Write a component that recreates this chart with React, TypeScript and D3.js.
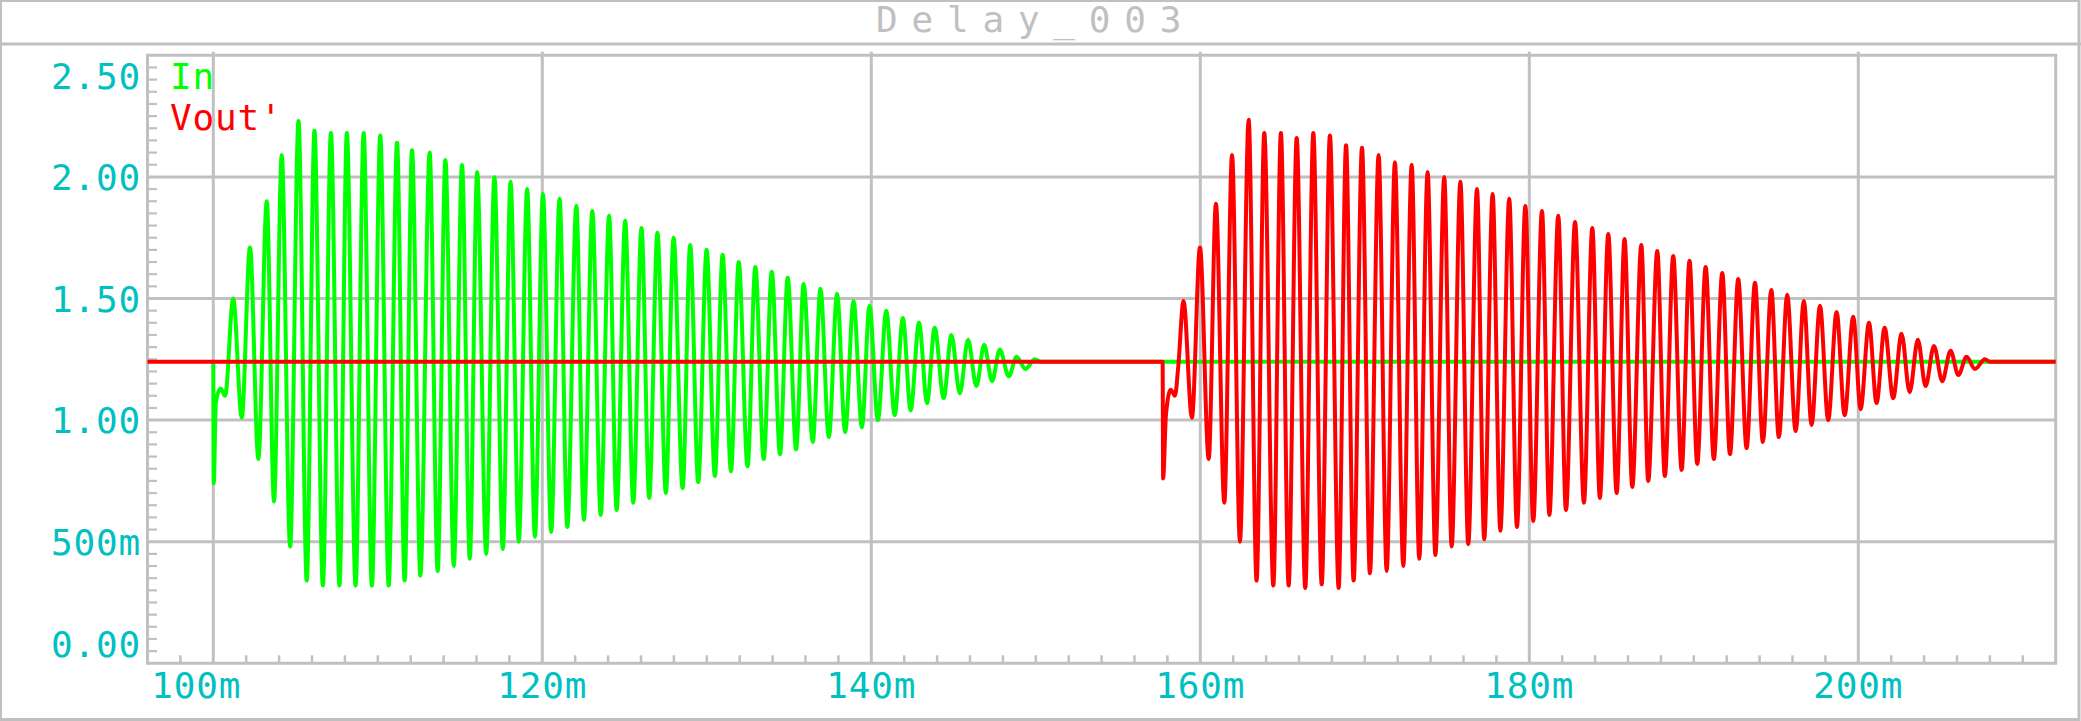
import React from 'react';
import * as d3 from 'd3';

const W = 2081;
const H = 721;

const TITLE = 'Delay_003';
const SERIES_NAMES = ['In', "Vout'"];
const SERIES_COLORS = ['#00ff00', '#ff0000'];

const X_DOMAIN = [96, 212];
const Y_DOMAIN = [0, 2.5];
const X_TICK_VALUES = [100, 120, 140, 160, 180, 200];
const X_TICK_LABELS = ['100m', '120m', '140m', '160m', '180m', '200m'];
const Y_TICK_VALUES = [0, 0.5, 1, 1.5, 2, 2.5];
const Y_TICK_LABELS = ['0.00', '500m', '1.00', '1.50', '2.00', '2.50'];

// In: time (ms) of each turning point, and the voltage there
const IN_TIME = [
  100.0, 100.03, 100.15, 100.44, 100.72, 101.21, 101.73, 102.23, 102.74, 103.25,
  103.69, 104.16, 104.67, 105.18, 105.68, 106.15, 106.66, 107.15, 107.67, 108.12,
  108.65, 109.14, 109.64, 110.15, 110.66, 111.17, 111.63, 112.08, 112.59, 113.15,
  113.64, 114.11, 114.62, 115.12, 115.59, 116.04, 116.59, 117.09, 117.6, 118.07,
  118.57, 119.08, 119.55, 120.04, 120.54, 121.05, 121.52, 122.07, 122.53, 123.04,
  123.55, 124.06, 124.52, 125.04, 125.53, 126.03, 126.5, 127.0, 127.51, 127.98,
  128.53, 128.99, 129.48, 129.99, 130.49, 130.96, 131.47, 131.94, 132.48, 132.95,
  133.46, 133.95, 134.45, 134.92, 135.43, 135.89, 136.44, 136.91, 137.42, 137.92,
  138.41, 138.92, 139.43, 139.89, 140.4, 140.91, 141.42, 141.92, 142.39, 142.9,
  143.39, 143.85, 144.4, 144.87, 145.38, 145.88, 146.39, 146.86, 147.34, 147.81,
  148.36, 148.83, 149.37, 149.94, 150.3, 212.0,
];
const IN_VALUE = [
  1.24, 0.74, 1.07, 1.13, 1.1, 1.5, 1.01, 1.71, 0.84, 1.9,
  0.665, 2.09, 0.48, 2.23, 0.34, 2.19, 0.32, 2.18, 0.32, 2.18,
  0.32, 2.18, 0.32, 2.17, 0.32, 2.14, 0.34, 2.11, 0.36, 2.1,
  0.38, 2.07, 0.4, 2.05, 0.43, 2.02, 0.45, 2.0, 0.47, 1.98,
  0.5, 1.95, 0.52, 1.93, 0.54, 1.91, 0.56, 1.88, 0.59, 1.86,
  0.61, 1.84, 0.63, 1.82, 0.66, 1.79, 0.68, 1.77, 0.7, 1.75,
  0.72, 1.72, 0.745, 1.7, 0.77, 1.68, 0.79, 1.65, 0.81, 1.63,
  0.84, 1.61, 0.86, 1.585, 0.88, 1.56, 0.91, 1.54, 0.93, 1.52,
  0.95, 1.49, 0.97, 1.47, 1.0, 1.45, 1.02, 1.42, 1.04, 1.4,
  1.07, 1.38, 1.09, 1.35, 1.11, 1.33, 1.14, 1.31, 1.16, 1.29,
  1.18, 1.26, 1.21, 1.25, 1.24, 1.24,
];

// Vout': time (ms) of each turning point, and the voltage there
const VOUT_TIME = [
  96.0, 157.71, 157.74, 157.91, 158.2, 158.46, 158.66, 158.98, 159.49, 159.98,
  160.51, 160.95, 161.46, 161.93, 162.41, 162.94, 163.42, 163.89, 164.44, 164.9,
  165.37, 165.86, 166.38, 166.87, 167.38, 167.88, 168.41, 168.86, 169.32, 169.83,
  170.31, 170.84, 171.33, 171.83, 172.34, 172.85, 173.31, 173.82, 174.29, 174.83,
  175.28, 175.81, 176.29, 176.82, 177.26, 177.77, 178.24, 178.78, 179.25, 179.76,
  180.24, 180.77, 181.22, 181.76, 182.23, 182.78, 183.32, 183.83, 184.29, 184.8,
  185.31, 185.79, 186.26, 186.81, 187.23, 187.78, 188.24, 188.75, 189.26, 189.74,
  190.21, 190.72, 191.22, 191.73, 192.2, 192.7, 193.21, 193.72, 194.2, 194.71,
  195.17, 195.68, 196.19, 196.69, 197.16, 197.67, 198.17, 198.68, 199.17, 199.69,
  200.14, 200.65, 201.11, 201.6, 202.12, 202.63, 203.12, 203.62, 204.09, 204.6,
  205.1, 205.61, 206.08, 206.58, 207.09, 207.7, 208.0, 212.0,
];
const VOUT_VALUE = [
  1.24, 1.24, 0.76, 1.02, 1.125, 1.1, 1.22, 1.49, 1.01, 1.71,
  0.84, 1.89, 0.66, 2.09, 0.5, 2.235, 0.34, 2.18, 0.32, 2.18,
  0.32, 2.16, 0.31, 2.18, 0.325, 2.17, 0.31, 2.13, 0.34, 2.12,
  0.37, 2.09, 0.38, 2.06, 0.4, 2.05, 0.43, 2.02, 0.445, 2.0,
  0.48, 1.98, 0.49, 1.95, 0.51, 1.93, 0.545, 1.91, 0.56, 1.88,
  0.585, 1.86, 0.61, 1.84, 0.63, 1.815, 0.66, 1.79, 0.68, 1.765,
  0.7, 1.745, 0.725, 1.72, 0.75, 1.695, 0.77, 1.675, 0.795, 1.655,
  0.82, 1.63, 0.84, 1.605, 0.86, 1.58, 0.885, 1.565, 0.91, 1.535,
  0.93, 1.515, 0.955, 1.49, 0.98, 1.47, 1.0, 1.445, 1.02, 1.425,
  1.045, 1.4, 1.07, 1.38, 1.09, 1.355, 1.115, 1.33, 1.14, 1.305,
  1.16, 1.285, 1.185, 1.26, 1.21, 1.25, 1.24, 1.24,
];

const GRID = '#c0c0c0';
const LABEL = '#00c0c0';
const FONT = '"DejaVu Sans Mono", "Liberation Mono", monospace';

const PLOT = { left: 147.5, right: 2055.7, top: 55.3, bottom: 663.3 };

export default function App() {
  const x = d3.scaleLinear().domain(X_DOMAIN).range([PLOT.left, PLOT.right]);
  const y = d3.scaleLinear().domain(Y_DOMAIN).range([PLOT.bottom, PLOT.top]);

  const line = d3
    .line<[number, number]>()
    .x((d) => x(d[0]))
    .y((d) => y(d[1]))
    .curve(d3.curveMonotoneX);

  const inPts: [number, number][] = IN_TIME.map((t, i) => [t, IN_VALUE[i]]);
  const voutPts: [number, number][] = VOUT_TIME.map((t, i) => [t, VOUT_VALUE[i]]);

  const xMinor = d3.range(X_DOMAIN[0] + 2, X_DOMAIN[1], 2).filter((v) => Math.abs(v % 20) > 1e-6);
  const yMinor = d3
    .range(1, 50)
    .map((k) => k * 0.05)
    .filter((v) => Math.abs(v / 0.5 - Math.round(v / 0.5)) > 1e-6);

  const yLabelCenter = (v: number) =>
    Math.min(Math.max(y(v), PLOT.top + 21), PLOT.bottom - 19.5);

  return (
    <svg
      width={W}
      height={H}
      style={{ position: 'absolute', left: 0, top: 0, background: '#ffffff' }}
    >
      <rect x={0} y={0} width={W} height={H} fill="#ffffff" />
      {/* outer frame */}
      <rect x={0.5} y={0.5} width={W - 2.5} height={H - 2} fill="none" stroke={GRID} strokeWidth={3} />
      <line x1={0} x2={W} y1={44} y2={44} stroke={GRID} strokeWidth={3} />
      <text
        x={876}
        y={32}
        fill={GRID}
        fontFamily={FONT}
        fontSize={36}
        letterSpacing={13.8}
      >
        {TITLE}
      </text>

      {/* grid */}
      {X_TICK_VALUES.map((v) => (
        <line key={'gx' + v} x1={x(v)} x2={x(v)} y1={PLOT.top - 3.5} y2={PLOT.bottom} stroke={GRID} strokeWidth={3} />
      ))}
      {Y_TICK_VALUES.filter((v) => v > 0 && v < 2.5).map((v) => (
        <line key={'gy' + v} x1={PLOT.left} x2={PLOT.right} y1={y(v)} y2={y(v)} stroke={GRID} strokeWidth={3} />
      ))}
      {/* frame */}
      <line x1={PLOT.left} x2={PLOT.right + 1.5} y1={PLOT.top} y2={PLOT.top} stroke={GRID} strokeWidth={3} />
      <line x1={PLOT.right} x2={PLOT.right} y1={PLOT.top} y2={PLOT.bottom + 1.5} stroke={GRID} strokeWidth={3} />
      <line x1={PLOT.left} x2={PLOT.right} y1={PLOT.bottom} y2={PLOT.bottom} stroke={GRID} strokeWidth={3} />
      <line x1={PLOT.left} x2={PLOT.left} y1={PLOT.top - 1.5} y2={PLOT.bottom + 1.5} stroke={GRID} strokeWidth={3} />

      {/* minor ticks */}
      {xMinor.map((v) => (
        <line key={'mx' + v} x1={x(v)} x2={x(v)} y1={PLOT.bottom} y2={PLOT.bottom - 8} stroke={GRID} strokeWidth={2.5} />
      ))}
      {yMinor.map((v) => (
        <line key={'my' + v} x1={PLOT.left} x2={PLOT.left + 9.5} y1={y(v)} y2={y(v)} stroke={GRID} strokeWidth={2.2} />
      ))}

      {/* traces */}
      <path d={line(inPts) || ''} fill="none" stroke={SERIES_COLORS[0]} strokeWidth={4} strokeLinejoin="round" />
      <path d={line(voutPts) || ''} fill="none" stroke={SERIES_COLORS[1]} strokeWidth={4} strokeLinejoin="round" />

      {/* y labels */}
      {Y_TICK_VALUES.map((v, i) => (
        <text
          key={'ly' + v}
          x={141}
          y={yLabelCenter(v) + 13}
          textAnchor="end"
          fill={LABEL}
          fontFamily={FONT}
          fontSize={36}
          letterSpacing={0.8}
        >
          {Y_TICK_LABELS[i]}
        </text>
      ))}
      {/* x labels */}
      {X_TICK_VALUES.map((v, i) => (
        <text
          key={'lx' + v}
          x={x(v) + (i === 0 ? -17 : 0)}
          y={697.5}
          textAnchor="middle"
          fill={LABEL}
          fontFamily={FONT}
          fontSize={36}
          letterSpacing={0.8}
        >
          {X_TICK_LABELS[i]}
        </text>
      ))}

      {/* legend */}
      {SERIES_NAMES.map((n, i) => (
        <text
          key={'lg' + n}
          x={170}
          y={89.3 + i * 40.7}
          fill={SERIES_COLORS[i]}
          fontFamily={FONT}
          fontSize={36}
          letterSpacing={0.8}
        >
          {n}
        </text>
      ))}
    </svg>
  );
}
